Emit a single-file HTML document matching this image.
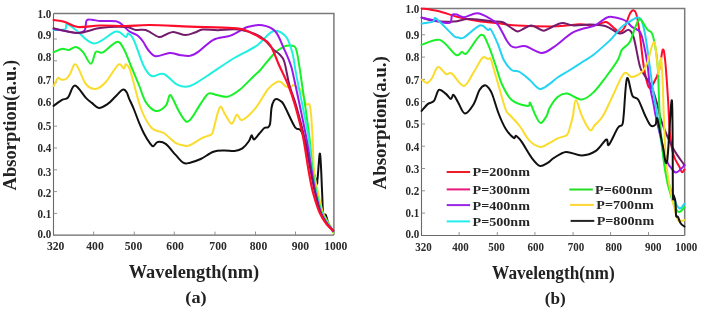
<!DOCTYPE html>
<html><head><meta charset="utf-8"><style>
html,body{margin:0;padding:0;background:#fff;width:704px;height:311px;overflow:hidden}
svg{display:block;will-change:transform}
</style></head><body>
<svg width="704" height="311" viewBox="0 0 704 311">
<rect width="704" height="311" fill="#fff"/>
<path d="M53.5,13.6 H333.9 V235.1" fill="none" stroke="#7a7a7a" stroke-width="1.5"/>
<path d="M53.5,13.6 V235.1 H333.9" fill="none" stroke="#6a6a6a" stroke-width="1.1"/>
<line x1="93.6" y1="235.1" x2="93.6" y2="231.6" stroke="#888" stroke-width="0.9"/>
<line x1="134.3" y1="235.1" x2="134.3" y2="231.6" stroke="#888" stroke-width="0.9"/>
<line x1="174.3" y1="235.1" x2="174.3" y2="231.6" stroke="#888" stroke-width="0.9"/>
<line x1="215.0" y1="235.1" x2="215.0" y2="231.6" stroke="#888" stroke-width="0.9"/>
<line x1="255.5" y1="235.1" x2="255.5" y2="231.6" stroke="#888" stroke-width="0.9"/>
<line x1="295.5" y1="235.1" x2="295.5" y2="231.6" stroke="#888" stroke-width="0.9"/>
<line x1="53.5" y1="213.4" x2="57.0" y2="213.4" stroke="#888" stroke-width="0.9"/>
<line x1="53.5" y1="191.6" x2="57.0" y2="191.6" stroke="#888" stroke-width="0.9"/>
<line x1="53.5" y1="169.8" x2="57.0" y2="169.8" stroke="#888" stroke-width="0.9"/>
<line x1="53.5" y1="148.0" x2="57.0" y2="148.0" stroke="#888" stroke-width="0.9"/>
<line x1="53.5" y1="126.2" x2="57.0" y2="126.2" stroke="#888" stroke-width="0.9"/>
<line x1="53.5" y1="104.4" x2="57.0" y2="104.4" stroke="#888" stroke-width="0.9"/>
<line x1="53.5" y1="82.6" x2="57.0" y2="82.6" stroke="#888" stroke-width="0.9"/>
<line x1="53.5" y1="60.8" x2="57.0" y2="60.8" stroke="#888" stroke-width="0.9"/>
<line x1="53.5" y1="39.0" x2="57.0" y2="39.0" stroke="#888" stroke-width="0.9"/>
<text x="55.7" y="250.3" font-family="Liberation Serif" font-weight="bold" font-size="11.5" fill="#2a2a2a" text-anchor="middle" textLength="17.5" lengthAdjust="spacingAndGlyphs">320</text>
<text x="95.0" y="250.3" font-family="Liberation Serif" font-weight="bold" font-size="11.5" fill="#2a2a2a" text-anchor="middle" textLength="17.5" lengthAdjust="spacingAndGlyphs">400</text>
<text x="133.5" y="250.3" font-family="Liberation Serif" font-weight="bold" font-size="11.5" fill="#2a2a2a" text-anchor="middle" textLength="17.5" lengthAdjust="spacingAndGlyphs">500</text>
<text x="175.1" y="250.3" font-family="Liberation Serif" font-weight="bold" font-size="11.5" fill="#2a2a2a" text-anchor="middle" textLength="17.5" lengthAdjust="spacingAndGlyphs">600</text>
<text x="218.1" y="250.3" font-family="Liberation Serif" font-weight="bold" font-size="11.5" fill="#2a2a2a" text-anchor="middle" textLength="17.5" lengthAdjust="spacingAndGlyphs">700</text>
<text x="258.5" y="250.3" font-family="Liberation Serif" font-weight="bold" font-size="11.5" fill="#2a2a2a" text-anchor="middle" textLength="17.5" lengthAdjust="spacingAndGlyphs">800</text>
<text x="300.4" y="250.3" font-family="Liberation Serif" font-weight="bold" font-size="11.5" fill="#2a2a2a" text-anchor="middle" textLength="17.5" lengthAdjust="spacingAndGlyphs">900</text>
<text x="335.8" y="250.3" font-family="Liberation Serif" font-weight="bold" font-size="11.5" fill="#2a2a2a" text-anchor="middle" textLength="23.3" lengthAdjust="spacingAndGlyphs">1000</text>
<text x="51.3" y="237.9" font-family="Liberation Serif" font-weight="bold" font-size="12.0" fill="#2a2a2a" text-anchor="end" textLength="13.8" lengthAdjust="spacingAndGlyphs">0.0</text>
<text x="51.3" y="217.7" font-family="Liberation Serif" font-weight="bold" font-size="12.0" fill="#2a2a2a" text-anchor="end" textLength="13.8" lengthAdjust="spacingAndGlyphs">0.1</text>
<text x="51.3" y="197.0" font-family="Liberation Serif" font-weight="bold" font-size="12.0" fill="#2a2a2a" text-anchor="end" textLength="13.8" lengthAdjust="spacingAndGlyphs">0.2</text>
<text x="51.3" y="175.5" font-family="Liberation Serif" font-weight="bold" font-size="12.0" fill="#2a2a2a" text-anchor="end" textLength="13.8" lengthAdjust="spacingAndGlyphs">0.3</text>
<text x="51.3" y="152.0" font-family="Liberation Serif" font-weight="bold" font-size="12.0" fill="#2a2a2a" text-anchor="end" textLength="13.8" lengthAdjust="spacingAndGlyphs">0.4</text>
<text x="51.3" y="129.5" font-family="Liberation Serif" font-weight="bold" font-size="12.0" fill="#2a2a2a" text-anchor="end" textLength="13.8" lengthAdjust="spacingAndGlyphs">0.5</text>
<text x="51.3" y="106.3" font-family="Liberation Serif" font-weight="bold" font-size="12.0" fill="#2a2a2a" text-anchor="end" textLength="13.8" lengthAdjust="spacingAndGlyphs">0.6</text>
<text x="51.3" y="84.0" font-family="Liberation Serif" font-weight="bold" font-size="12.0" fill="#2a2a2a" text-anchor="end" textLength="13.8" lengthAdjust="spacingAndGlyphs">0.7</text>
<text x="51.3" y="60.5" font-family="Liberation Serif" font-weight="bold" font-size="12.0" fill="#2a2a2a" text-anchor="end" textLength="13.8" lengthAdjust="spacingAndGlyphs">0.8</text>
<text x="51.3" y="39.0" font-family="Liberation Serif" font-weight="bold" font-size="12.0" fill="#2a2a2a" text-anchor="end" textLength="13.8" lengthAdjust="spacingAndGlyphs">0.9</text>
<text x="51.3" y="18.0" font-family="Liberation Serif" font-weight="bold" font-size="12.0" fill="#2a2a2a" text-anchor="end" textLength="13.8" lengthAdjust="spacingAndGlyphs">1.0</text>
<path d="M421.5,8.4 H684.7 V235.5" fill="none" stroke="#7a7a7a" stroke-width="1.5"/>
<path d="M421.5,8.4 V235.5 H684.7" fill="none" stroke="#6a6a6a" stroke-width="1.1"/>
<line x1="459.1" y1="235.5" x2="459.1" y2="232.0" stroke="#888" stroke-width="0.9"/>
<line x1="497.3" y1="235.5" x2="497.3" y2="232.0" stroke="#888" stroke-width="0.9"/>
<line x1="534.9" y1="235.5" x2="534.9" y2="232.0" stroke="#888" stroke-width="0.9"/>
<line x1="573.1" y1="235.5" x2="573.1" y2="232.0" stroke="#888" stroke-width="0.9"/>
<line x1="610.6" y1="235.5" x2="610.6" y2="232.0" stroke="#888" stroke-width="0.9"/>
<line x1="648.5" y1="235.5" x2="648.5" y2="232.0" stroke="#888" stroke-width="0.9"/>
<line x1="421.5" y1="213.1" x2="425.0" y2="213.1" stroke="#888" stroke-width="0.9"/>
<line x1="421.5" y1="190.8" x2="425.0" y2="190.8" stroke="#888" stroke-width="0.9"/>
<line x1="421.5" y1="168.5" x2="425.0" y2="168.5" stroke="#888" stroke-width="0.9"/>
<line x1="421.5" y1="146.2" x2="425.0" y2="146.2" stroke="#888" stroke-width="0.9"/>
<line x1="421.5" y1="124.0" x2="425.0" y2="124.0" stroke="#888" stroke-width="0.9"/>
<line x1="421.5" y1="101.7" x2="425.0" y2="101.7" stroke="#888" stroke-width="0.9"/>
<line x1="421.5" y1="79.4" x2="425.0" y2="79.4" stroke="#888" stroke-width="0.9"/>
<line x1="421.5" y1="57.1" x2="425.0" y2="57.1" stroke="#888" stroke-width="0.9"/>
<line x1="421.5" y1="34.8" x2="425.0" y2="34.8" stroke="#888" stroke-width="0.9"/>
<text x="423.4" y="251.0" font-family="Liberation Serif" font-weight="bold" font-size="11.5" fill="#2a2a2a" text-anchor="middle" textLength="16.5" lengthAdjust="spacingAndGlyphs">320</text>
<text x="460.6" y="251.0" font-family="Liberation Serif" font-weight="bold" font-size="11.5" fill="#2a2a2a" text-anchor="middle" textLength="16.5" lengthAdjust="spacingAndGlyphs">400</text>
<text x="496.4" y="251.0" font-family="Liberation Serif" font-weight="bold" font-size="11.5" fill="#2a2a2a" text-anchor="middle" textLength="16.5" lengthAdjust="spacingAndGlyphs">500</text>
<text x="535.8" y="251.0" font-family="Liberation Serif" font-weight="bold" font-size="11.5" fill="#2a2a2a" text-anchor="middle" textLength="16.5" lengthAdjust="spacingAndGlyphs">600</text>
<text x="575.9" y="251.0" font-family="Liberation Serif" font-weight="bold" font-size="11.5" fill="#2a2a2a" text-anchor="middle" textLength="16.5" lengthAdjust="spacingAndGlyphs">700</text>
<text x="613.7" y="251.0" font-family="Liberation Serif" font-weight="bold" font-size="11.5" fill="#2a2a2a" text-anchor="middle" textLength="16.5" lengthAdjust="spacingAndGlyphs">800</text>
<text x="653.3" y="251.0" font-family="Liberation Serif" font-weight="bold" font-size="11.5" fill="#2a2a2a" text-anchor="middle" textLength="16.5" lengthAdjust="spacingAndGlyphs">900</text>
<text x="686.2" y="251.0" font-family="Liberation Serif" font-weight="bold" font-size="11.5" fill="#2a2a2a" text-anchor="middle" textLength="22.0" lengthAdjust="spacingAndGlyphs">1000</text>
<text x="419.3" y="238.1" font-family="Liberation Serif" font-weight="bold" font-size="12.0" fill="#2a2a2a" text-anchor="end" textLength="13.8" lengthAdjust="spacingAndGlyphs">0.0</text>
<text x="419.3" y="217.4" font-family="Liberation Serif" font-weight="bold" font-size="12.0" fill="#2a2a2a" text-anchor="end" textLength="13.8" lengthAdjust="spacingAndGlyphs">0.1</text>
<text x="419.3" y="194.8" font-family="Liberation Serif" font-weight="bold" font-size="12.0" fill="#2a2a2a" text-anchor="end" textLength="13.8" lengthAdjust="spacingAndGlyphs">0.2</text>
<text x="419.3" y="172.5" font-family="Liberation Serif" font-weight="bold" font-size="12.0" fill="#2a2a2a" text-anchor="end" textLength="13.8" lengthAdjust="spacingAndGlyphs">0.3</text>
<text x="419.3" y="150.6" font-family="Liberation Serif" font-weight="bold" font-size="12.0" fill="#2a2a2a" text-anchor="end" textLength="13.8" lengthAdjust="spacingAndGlyphs">0.4</text>
<text x="419.3" y="128.2" font-family="Liberation Serif" font-weight="bold" font-size="12.0" fill="#2a2a2a" text-anchor="end" textLength="13.8" lengthAdjust="spacingAndGlyphs">0.5</text>
<text x="419.3" y="106.0" font-family="Liberation Serif" font-weight="bold" font-size="12.0" fill="#2a2a2a" text-anchor="end" textLength="13.8" lengthAdjust="spacingAndGlyphs">0.6</text>
<text x="419.3" y="84.2" font-family="Liberation Serif" font-weight="bold" font-size="12.0" fill="#2a2a2a" text-anchor="end" textLength="13.8" lengthAdjust="spacingAndGlyphs">0.7</text>
<text x="419.3" y="60.8" font-family="Liberation Serif" font-weight="bold" font-size="12.0" fill="#2a2a2a" text-anchor="end" textLength="13.8" lengthAdjust="spacingAndGlyphs">0.8</text>
<text x="419.3" y="38.8" font-family="Liberation Serif" font-weight="bold" font-size="12.0" fill="#2a2a2a" text-anchor="end" textLength="13.8" lengthAdjust="spacingAndGlyphs">0.9</text>
<text x="419.3" y="13.0" font-family="Liberation Serif" font-weight="bold" font-size="12.0" fill="#2a2a2a" text-anchor="end" textLength="13.8" lengthAdjust="spacingAndGlyphs">1.0</text>
<path d="M53.6,105.9 C55.0,104.9 59.6,101.3 62.0,99.9 C64.4,98.5 65.8,99.9 68.0,97.5 C70.2,95.1 71.9,85.4 74.9,85.5 C77.9,85.6 83.1,95.0 85.9,97.9 C88.7,100.8 89.7,101.2 91.9,102.9 C94.1,104.6 96.2,107.7 98.9,107.9 C101.6,108.1 105.1,105.7 107.8,103.9 C110.5,102.1 112.5,99.4 115.0,97.0 C117.5,94.6 120.8,90.5 122.7,89.7 C124.6,88.9 125.5,90.6 126.5,92.0 C127.5,93.4 127.8,95.5 129.0,98.3 C130.2,101.1 132.2,105.0 133.8,109.0 C135.4,113.0 137.2,118.0 138.8,122.0 C140.5,126.0 141.9,129.5 143.7,133.0 C145.5,136.5 148.1,140.7 149.7,142.9 C151.3,145.1 152.0,146.5 153.3,146.3 C154.6,146.1 155.6,142.3 157.7,141.9 C159.8,141.5 162.7,141.7 165.7,143.9 C168.7,146.1 172.6,151.7 175.6,154.9 C178.6,158.1 181.2,161.6 183.6,162.9 C186.0,164.2 187.2,163.3 190.0,162.7 C192.8,162.0 196.8,160.8 200.7,159.0 C204.6,157.2 209.5,153.2 213.4,151.8 C217.3,150.4 220.4,150.6 224.0,150.5 C227.6,150.4 231.6,151.3 234.7,151.0 C237.8,150.7 240.0,150.1 242.4,148.4 C244.8,146.7 247.5,143.2 249.0,141.0 C250.5,138.8 250.8,135.7 251.6,135.4 C252.4,135.1 252.8,139.6 254.0,139.4 C255.2,139.2 257.3,135.9 259.0,134.0 C260.7,132.1 262.8,129.1 264.3,128.0 C265.8,126.9 267.2,128.0 268.2,127.2 C269.2,126.5 269.6,126.7 270.1,123.5 C270.7,120.3 270.9,111.8 271.5,108.0 C272.1,104.2 273.1,102.0 274.0,100.5 C274.9,99.0 275.9,98.9 277.0,99.0 C278.1,99.1 279.3,100.0 280.5,101.0 C281.7,102.0 281.8,101.0 284.0,105.0 C286.2,109.0 291.5,120.9 293.6,124.8 C295.7,128.7 294.9,127.0 296.5,128.6 C298.1,130.2 299.7,126.0 302.9,134.5 C306.1,142.9 313.3,171.9 315.7,179.3 C318.1,186.7 316.8,183.3 317.5,179.0 C318.2,174.7 319.2,151.5 320.0,153.7 C320.8,155.9 321.6,182.2 322.1,192.0 C322.6,201.8 322.5,209.0 323.1,212.8 C323.7,216.6 324.9,213.1 325.8,215.0 C326.7,216.9 327.5,221.4 328.7,224.0 C329.9,226.6 332.4,229.7 333.2,230.8" stroke="#111111" stroke-width="2.0" fill="none" stroke-linejoin="round" stroke-linecap="round"/>
<path d="M53.6,86.0 C54.3,84.7 56.8,79.1 58.0,78.0 C59.2,76.9 59.7,79.4 61.0,79.6 C62.3,79.8 64.5,79.9 66.0,79.0 C67.5,78.1 68.3,76.4 70.0,74.0 C71.7,71.6 73.2,62.8 75.9,64.5 C78.6,66.2 82.6,79.9 85.9,84.0 C89.2,88.1 92.6,89.2 95.9,88.9 C99.2,88.6 102.1,86.0 105.8,82.0 C109.5,78.0 115.3,67.0 118.3,64.7 C121.3,62.5 122.6,68.6 123.9,68.5 C125.2,68.4 124.9,64.0 125.9,64.2 C126.9,64.4 128.7,66.7 129.9,69.5 C131.1,72.3 131.3,74.2 133.2,81.0 C135.1,87.8 138.4,102.2 141.5,110.0 C144.6,117.8 148.0,124.2 151.7,128.0 C155.4,131.8 159.7,130.5 163.7,133.0 C167.7,135.5 172.3,140.8 175.6,142.9 C178.9,145.0 181.2,145.1 183.6,145.5 C186.0,145.9 186.8,146.5 190.0,145.2 C193.2,143.9 199.2,139.5 202.8,137.7 C206.4,135.9 209.5,135.8 211.3,134.5 C213.1,133.2 212.0,134.2 213.4,129.7 C214.8,125.2 217.8,109.8 219.8,107.3 C221.8,104.8 223.2,112.0 225.2,114.7 C227.2,117.4 229.6,123.7 231.6,123.7 C233.6,123.7 235.1,115.3 236.9,114.7 C238.7,114.1 239.1,121.1 242.2,120.1 C245.3,119.0 251.0,113.6 255.3,108.4 C259.6,103.2 264.4,93.6 268.0,89.2 C271.6,84.8 274.7,82.9 277.0,81.8 C279.3,80.7 280.3,81.8 281.7,82.6 C283.1,83.4 284.1,85.7 285.6,86.4 C287.1,87.2 289.4,87.3 290.7,87.1 C292.0,86.9 292.2,85.1 293.3,85.1 C294.4,85.1 295.7,86.1 297.0,87.0 C298.3,87.9 299.8,88.5 301.0,90.3 C302.2,92.1 303.1,95.7 304.0,98.0 C304.9,100.3 305.3,103.3 306.2,104.4 C307.1,105.5 308.6,102.8 309.4,104.4 C310.2,106.0 310.5,108.7 311.0,114.0 C311.5,119.3 312.0,126.7 312.5,136.0 C313.0,145.3 313.1,160.6 314.0,170.0 C314.9,179.4 316.5,185.4 318.0,192.5 C319.5,199.6 321.2,207.5 323.0,212.8 C324.8,218.1 327.3,220.7 329.0,224.1 C330.7,227.5 332.5,231.5 333.2,233.0" stroke="#fadc2c" stroke-width="2.0" fill="none" stroke-linejoin="round" stroke-linecap="round"/>
<path d="M53.6,52.3 C55.0,51.7 59.5,49.3 62.0,48.9 C64.5,48.5 66.6,50.2 68.9,49.9 C71.2,49.6 73.6,46.6 75.9,46.9 C78.2,47.2 80.4,49.1 82.9,51.9 C85.4,54.7 88.7,63.8 90.9,63.8 C93.1,63.8 93.9,53.8 95.9,51.9 C97.9,50.0 99.4,54.0 102.9,52.3 C106.4,50.6 113.3,42.5 116.8,41.9 C120.3,41.3 121.4,44.9 123.8,48.9 C126.2,52.9 128.4,59.8 131.0,66.0 C133.6,72.2 136.9,80.0 139.3,86.0 C141.8,92.0 143.0,97.8 145.7,101.9 C148.4,106.1 152.3,110.3 155.7,110.9 C159.0,111.5 163.5,108.2 165.8,105.6 C168.1,103.0 168.4,96.4 169.6,95.3 C170.8,94.2 171.3,96.3 172.9,99.1 C174.5,101.9 177.1,108.2 179.3,112.0 C181.6,115.8 184.2,120.8 186.4,121.7 C188.6,122.6 190.2,119.7 192.2,117.2 C194.2,114.7 196.7,109.9 198.6,106.9 C200.5,104.0 201.8,101.8 203.5,99.5 C205.2,97.2 206.5,94.1 208.9,93.4 C211.3,92.7 214.7,94.8 217.9,95.3 C221.1,95.8 224.5,97.6 228.2,96.6 C231.9,95.6 235.7,92.9 240.0,89.5 C244.3,86.1 250.5,79.2 253.9,76.0 C257.3,72.8 257.1,73.5 260.3,70.0 C263.5,66.5 269.2,58.6 273.1,54.7 C277.0,50.8 280.6,48.2 283.8,46.7 C287.0,45.2 290.2,45.2 292.3,45.8 C294.4,46.4 295.1,45.5 296.5,50.5 C297.9,55.5 298.7,61.8 300.8,76.0 C302.9,90.2 307.4,120.3 309.3,136.0 C311.2,151.7 311.3,160.6 312.5,170.0 C313.7,179.4 314.9,185.4 316.5,192.5 C318.1,199.6 320.0,207.5 322.0,212.8 C324.0,218.1 326.6,220.9 328.5,224.1 C330.4,227.3 332.4,230.7 333.2,232.0" stroke="#18f028" stroke-width="2.0" fill="none" stroke-linejoin="round" stroke-linecap="round"/>
<path d="M53.6,30.0 C55.5,29.9 62.8,30.5 65.0,29.5 C67.2,28.5 65.2,23.9 67.0,24.0 C68.8,24.1 71.4,26.8 75.9,30.0 C80.4,33.2 87.2,43.2 93.9,43.5 C100.6,43.8 110.5,32.6 115.8,31.5 C121.1,30.4 123.7,36.7 125.8,37.0 C127.9,37.3 126.9,33.0 128.2,33.5 C129.5,34.0 131.2,34.6 133.8,40.0 C136.4,45.4 140.7,60.0 143.7,66.0 C146.7,72.0 148.4,74.7 151.7,76.0 C155.0,77.3 159.4,72.5 163.7,74.0 C168.0,75.5 173.2,82.9 177.6,84.9 C182.0,86.9 185.1,87.5 190.0,86.0 C194.9,84.5 199.9,80.5 207.0,76.0 C214.1,71.5 224.4,64.0 232.6,59.0 C240.8,54.0 249.2,50.8 256.0,46.2 C262.8,41.6 268.1,32.9 273.1,31.3 C278.1,29.7 282.7,33.1 285.9,36.6 C289.1,40.1 290.5,46.0 292.3,52.6 C294.1,59.2 293.8,62.1 296.5,76.0 C299.2,89.9 305.7,120.3 308.3,136.0 C310.9,151.7 310.7,160.6 312.0,170.0 C313.3,179.4 314.4,185.4 316.0,192.5 C317.6,199.6 319.5,207.5 321.5,212.8 C323.5,218.1 326.1,221.0 328.0,224.1 C329.9,227.2 332.3,230.3 333.2,231.5" stroke="#1ff0e0" stroke-width="2.0" fill="none" stroke-linejoin="round" stroke-linecap="round"/>
<path d="M53.6,29.0 C55.5,29.3 61.0,30.3 65.0,31.0 C69.0,31.7 74.6,33.2 77.9,33.0 C81.2,32.8 83.3,32.1 84.8,30.0 C86.2,27.9 85.4,22.2 86.6,20.5 C87.8,18.8 89.8,19.7 92.0,19.8 C94.2,19.9 97.3,20.8 100.0,21.0 C102.7,21.2 105.3,21.0 108.0,21.0 C110.7,21.0 114.0,20.9 116.0,21.2 C118.0,21.5 118.8,22.1 120.1,23.0 C121.4,23.9 122.8,25.2 124.1,26.5 C125.4,27.8 126.8,29.4 128.2,30.5 C129.6,31.6 131.1,32.3 132.7,33.2 C134.3,34.1 136.2,34.3 137.9,35.7 C139.6,37.1 141.3,39.1 143.0,41.5 C144.7,43.9 146.1,47.5 148.2,50.0 C150.3,52.5 152.1,55.8 155.7,56.3 C159.3,56.8 165.7,53.1 169.7,52.9 C173.7,52.7 176.2,54.4 179.6,54.9 C183.0,55.4 186.8,56.3 190.0,55.8 C193.2,55.2 194.6,54.3 198.5,51.6 C202.4,48.9 208.1,42.5 213.4,39.8 C218.7,37.1 224.8,37.7 230.5,35.6 C236.2,33.5 242.2,28.7 247.5,27.0 C252.8,25.3 257.8,24.6 262.4,25.3 C267.0,26.0 271.6,27.5 275.2,31.3 C278.8,35.1 281.3,43.1 283.8,48.4 C286.3,53.7 288.5,58.7 290.1,63.3 C291.7,67.9 290.9,63.9 293.5,76.0 C296.1,88.1 303.0,120.3 306.0,136.0 C309.0,151.7 309.9,160.6 311.5,170.0 C313.1,179.4 313.9,185.4 315.5,192.5 C317.1,199.6 319.0,207.5 321.0,212.8 C323.0,218.1 325.5,221.1 327.5,224.1 C329.5,227.1 332.2,229.8 333.2,231.0" stroke="#9c18ea" stroke-width="2.0" fill="none" stroke-linejoin="round" stroke-linecap="round"/>
<path d="M53.6,28.3 C57.7,29.1 70.2,32.9 77.9,32.9 C85.6,32.9 91.9,29.0 99.9,28.0 C107.9,27.0 119.8,26.7 125.8,27.0 C131.8,27.3 132.5,29.5 135.8,30.0 C139.1,30.5 141.9,28.9 145.7,30.0 C149.5,31.1 155.1,36.1 158.5,36.9 C161.9,37.6 163.5,35.3 166.0,34.5 C168.5,33.7 170.2,31.9 173.5,32.0 C176.8,32.1 181.9,35.0 185.5,35.1 C189.1,35.2 192.1,33.4 195.0,32.5 C197.9,31.6 199.0,30.0 202.8,29.6 C206.6,29.2 211.7,30.2 217.7,30.2 C223.7,30.2 231.9,28.5 239.0,29.6 C246.1,30.7 254.7,33.4 260.3,36.6 C265.9,39.8 269.6,46.0 272.7,48.9 C275.8,51.8 277.2,51.9 279.1,54.0 C281.0,56.1 282.6,56.5 284.3,61.7 C286.0,66.9 287.4,77.8 289.4,85.0 C291.3,92.2 293.6,96.5 296.0,105.0 C298.4,113.5 301.6,125.2 304.0,136.0 C306.4,146.8 308.7,160.6 310.5,170.0 C312.3,179.4 313.3,185.4 315.0,192.5 C316.7,199.6 318.5,207.5 320.5,212.8 C322.5,218.1 324.9,221.1 327.0,224.1 C329.1,227.1 332.2,229.7 333.2,230.8" stroke="#741c6c" stroke-width="2.0" fill="none" stroke-linejoin="round" stroke-linecap="round"/>
<path d="M53.6,20.0 C55.5,20.3 61.0,20.8 65.0,22.0 C69.0,23.2 72.1,26.4 77.9,27.0 C83.7,27.6 92.0,25.7 100.0,25.5 C108.0,25.3 117.5,26.1 125.8,26.0 C134.1,25.9 139.0,24.9 149.7,25.0 C160.4,25.1 176.2,26.1 190.0,26.6 C203.8,27.1 223.4,27.5 232.6,28.1 C241.8,28.7 240.8,28.6 245.4,30.2 C250.0,31.8 256.2,35.2 260.3,37.7 C264.4,40.2 267.0,40.5 270.1,45.0 C273.2,49.5 276.0,58.3 279.0,65.0 C282.0,71.7 285.5,78.3 288.2,85.0 C290.9,91.7 292.6,96.5 295.0,105.0 C297.4,113.5 300.6,125.2 302.9,136.0 C305.1,146.8 306.8,160.6 308.5,170.0 C310.2,179.4 311.1,185.4 313.0,192.5 C314.9,199.6 317.4,207.5 319.7,212.8 C321.9,218.1 324.2,221.1 326.5,224.1 C328.8,227.1 332.1,229.7 333.2,230.8" stroke="#ff0d2a" stroke-width="2.2" fill="none" stroke-linejoin="round" stroke-linecap="round"/>
<path d="M421.6,8.4 C424.3,8.8 431.9,9.6 438.0,11.0 C444.1,12.4 451.3,15.3 457.9,17.0 C464.5,18.7 471.1,19.9 477.8,21.0 C484.5,22.1 491.1,22.6 497.8,23.3 C504.5,24.1 507.7,25.0 517.7,25.5 C527.7,26.0 547.2,26.5 557.6,26.3 C568.0,26.1 573.9,24.4 579.9,24.3 C585.9,24.2 589.6,25.9 593.9,25.5 C598.2,25.1 602.6,21.6 605.9,22.0 C609.2,22.4 611.5,26.2 613.8,27.9 C616.1,29.5 618.0,32.1 619.8,31.9 C621.6,31.7 623.1,29.9 624.8,26.9 C626.5,23.9 628.3,16.8 629.8,14.0 C631.3,11.2 632.6,10.1 633.8,10.4 C635.0,10.7 635.8,12.1 636.8,16.0 C637.8,19.9 638.6,25.6 639.8,33.9 C640.9,42.2 642.2,57.1 643.7,66.0 C645.2,74.8 647.1,84.2 648.7,87.0 C650.4,89.8 651.8,86.0 653.6,83.1 C655.4,80.2 657.8,75.1 659.3,69.6 C660.8,64.1 661.7,51.5 662.7,49.9 C663.7,48.3 664.2,51.9 665.1,60.0 C666.0,68.1 667.2,86.2 668.0,98.6 C668.8,111.0 669.1,124.9 670.0,134.3 C670.9,143.7 672.0,149.6 673.5,155.0 C675.0,160.4 677.9,163.7 679.3,166.6 C680.7,169.5 681.0,171.7 681.9,172.2 C682.8,172.7 684.0,169.9 684.4,169.5" stroke="#ff0d2a" stroke-width="2.0" fill="none" stroke-linejoin="round" stroke-linecap="round"/>
<path d="M421.6,17.6 C423.7,18.2 428.6,20.3 434.0,21.0 C439.4,21.7 448.2,21.9 453.9,21.6 C459.5,21.3 462.6,19.2 467.9,19.0 C473.2,18.8 481.6,20.1 485.8,20.5 C490.0,20.9 490.1,21.2 493.0,21.5 C495.9,21.8 500.1,21.3 502.9,22.2 C505.7,23.1 507.5,25.5 510.0,27.0 C512.5,28.5 515.4,31.1 517.7,31.4 C520.0,31.6 521.8,29.5 524.0,28.5 C526.2,27.5 529.0,25.7 531.2,25.6 C533.5,25.5 535.4,27.1 537.5,28.0 C539.6,28.9 541.6,30.9 544.0,30.7 C546.4,30.5 549.0,28.3 552.0,27.0 C555.0,25.7 558.4,23.2 562.0,23.0 C565.6,22.8 569.2,25.2 573.9,25.5 C578.5,25.8 584.6,24.4 589.9,24.5 C595.2,24.6 600.9,24.8 605.9,26.3 C610.9,27.8 616.0,32.9 619.8,33.5 C623.6,34.1 626.5,29.2 628.8,29.9 C631.1,30.6 632.0,31.9 633.8,37.9 C635.6,43.9 638.1,60.0 639.8,66.0 C641.4,72.0 641.7,70.5 643.7,74.0 C645.7,77.5 649.4,81.6 651.7,86.9 C654.0,92.2 656.1,100.2 657.7,105.9 C659.3,111.6 658.8,113.8 661.3,120.8 C663.8,127.8 668.9,140.4 672.8,147.8 C676.6,155.2 682.5,162.2 684.4,165.1" stroke="#741c6c" stroke-width="2.0" fill="none" stroke-linejoin="round" stroke-linecap="round"/>
<path d="M421.6,17.6 C425.7,18.5 441.0,22.2 445.9,22.9 C450.8,23.6 449.8,23.1 450.8,21.8 C451.8,20.5 451.1,16.2 452.1,15.0 C453.1,13.8 454.6,14.2 456.6,14.6 C458.6,15.0 460.9,17.4 464.3,17.2 C467.7,17.0 472.9,13.0 477.2,13.2 C481.5,13.4 486.6,16.6 490.0,18.5 C493.4,20.4 495.6,21.8 497.7,24.3 C499.8,26.8 501.3,30.5 502.9,33.3 C504.4,36.1 505.6,38.9 507.0,41.0 C508.4,43.1 509.6,44.9 511.0,46.0 C512.5,47.1 513.2,47.5 515.7,47.5 C518.2,47.5 521.4,45.4 525.7,46.3 C530.0,47.2 537.0,52.8 541.7,52.9 C546.4,53.0 548.6,50.4 554.0,46.9 C559.4,43.4 567.2,35.4 573.9,31.9 C580.5,28.4 589.8,27.4 593.9,25.9 C598.0,24.4 596.3,24.4 598.6,23.0 C600.9,21.6 605.0,18.1 607.6,17.2 C610.2,16.2 611.6,17.0 614.0,17.3 C616.4,17.6 619.6,18.4 621.7,19.1 C623.9,19.8 625.2,20.4 626.9,21.7 C628.6,23.0 629.8,25.2 632.0,26.9 C634.2,28.6 638.0,29.2 640.0,32.0 C642.0,34.8 642.4,38.2 643.7,43.9 C645.0,49.6 646.7,59.1 647.7,66.0 C648.7,72.8 648.7,78.6 649.7,85.0 C650.7,91.4 652.6,99.3 653.6,104.3 C654.6,109.3 654.2,109.0 655.5,115.0 C656.8,121.0 659.4,132.3 661.3,140.0 C663.2,147.7 665.6,156.8 667.1,161.3 C668.6,165.8 669.0,165.2 670.5,167.0 C672.0,168.8 673.8,172.7 676.1,172.4 C678.4,172.2 683.0,166.7 684.4,165.5" stroke="#9c18ea" stroke-width="2.0" fill="none" stroke-linejoin="round" stroke-linecap="round"/>
<path d="M421.6,23.5 C423.5,23.2 430.8,22.5 433.0,21.6 C435.2,20.7 433.8,17.9 435.0,18.0 C436.2,18.1 436.9,19.0 440.0,22.0 C443.1,25.0 450.9,33.4 453.9,35.9 C456.9,38.4 456.3,37.0 458.0,37.3 C459.7,37.6 460.3,39.5 463.9,37.5 C467.5,35.5 475.8,26.8 479.8,25.5 C483.8,24.2 486.0,29.2 487.8,29.9 C489.6,30.6 489.1,27.2 490.8,29.5 C492.5,31.8 495.6,38.8 497.8,43.9 C500.0,49.0 501.5,55.6 503.8,60.0 C506.1,64.3 509.0,68.0 511.7,70.0 C514.4,72.0 516.7,70.3 519.7,72.0 C522.7,73.7 526.4,77.1 529.7,79.9 C533.0,82.7 536.4,88.2 539.7,88.9 C543.0,89.6 546.6,85.8 549.6,83.9 C552.6,82.0 554.2,79.8 557.6,77.5 C561.0,75.2 565.6,72.8 570.0,70.0 C574.4,67.2 579.9,63.6 583.9,61.0 C587.9,58.4 589.6,57.9 593.9,54.5 C598.2,51.1 606.4,43.6 609.8,40.5 C613.1,37.4 612.0,38.2 614.0,35.9 C616.0,33.6 619.1,29.3 621.7,26.9 C624.3,24.5 626.9,23.3 629.5,21.7 C632.1,20.1 635.5,17.6 637.5,17.5 C639.5,17.4 640.4,17.6 641.8,21.0 C643.2,24.4 644.4,30.4 645.7,37.9 C647.0,45.4 648.5,57.3 649.7,66.0 C650.9,74.7 651.6,81.0 653.0,90.0 C654.4,99.0 655.9,106.7 658.0,120.0 C660.1,133.3 663.3,157.5 665.7,170.0 C668.1,182.5 670.1,188.4 672.4,194.8 C674.6,201.2 677.2,206.8 679.2,208.3 C681.2,209.8 683.5,204.6 684.4,203.8" stroke="#22d4f2" stroke-width="2.0" fill="none" stroke-linejoin="round" stroke-linecap="round"/>
<path d="M421.6,44.9 C424.7,44.1 434.2,38.2 439.9,39.9 C445.6,41.6 452.2,52.9 455.9,54.9 C459.6,56.9 460.1,52.2 461.9,51.9 C463.7,51.6 463.8,55.7 466.9,52.9 C470.0,50.1 477.3,36.4 480.8,34.9 C484.3,33.4 485.3,38.7 487.8,43.9 C490.3,49.1 493.5,59.3 495.8,66.0 C498.1,72.7 499.2,78.2 501.8,83.9 C504.4,89.6 507.4,96.2 511.7,99.9 C516.0,103.6 524.6,105.4 527.7,105.9 C530.8,106.4 528.8,101.2 530.1,102.9 C531.4,104.6 533.9,112.5 535.7,115.8 C537.5,119.1 538.9,123.0 540.7,123.0 C542.5,123.0 545.1,118.5 546.6,116.0 C548.1,113.5 547.8,111.1 549.6,107.9 C551.4,104.7 554.7,99.3 557.6,96.9 C560.5,94.5 563.0,93.1 567.0,93.5 C571.0,93.9 577.4,99.8 581.9,99.5 C586.4,99.2 589.9,95.7 593.9,91.9 C597.9,88.2 601.9,82.3 605.9,77.0 C609.9,71.7 615.1,64.5 617.8,60.0 C620.4,55.5 619.8,52.9 621.8,49.9 C623.8,46.9 627.5,45.9 629.8,41.9 C632.1,37.9 634.1,29.7 635.8,25.9 C637.5,22.1 638.5,19.3 639.8,19.0 C641.1,18.7 642.4,22.1 643.7,23.9 C645.0,25.7 646.4,28.4 647.7,29.9 C649.0,31.4 650.5,30.6 651.7,32.9 C652.9,35.2 653.7,38.4 654.7,43.9 C655.7,49.4 656.8,53.3 657.7,66.0 C658.6,78.7 658.8,102.7 660.0,120.0 C661.2,137.3 663.1,157.2 665.0,170.0 C666.9,182.8 669.1,190.1 671.3,197.0 C673.5,203.9 675.9,210.0 678.1,211.7 C680.3,213.4 683.4,207.9 684.4,207.2" stroke="#18f028" stroke-width="2.0" fill="none" stroke-linejoin="round" stroke-linecap="round"/>
<path d="M421.6,79.5 C422.5,80.1 425.3,83.2 427.0,82.9 C428.7,82.7 430.2,80.7 432.0,78.0 C433.8,75.3 435.7,67.7 438.0,67.0 C440.3,66.3 443.6,72.9 445.9,74.0 C448.2,75.1 448.9,71.6 451.9,73.6 C454.9,75.6 460.2,86.2 463.9,85.9 C467.5,85.6 471.0,76.3 473.8,72.0 C476.6,67.7 479.1,62.5 480.8,60.0 C482.5,57.5 482.6,57.1 483.8,56.9 C485.0,56.7 487.0,58.8 488.0,59.0 C489.0,59.2 489.4,57.5 490.0,58.0 C490.6,58.5 490.2,56.7 491.8,62.0 C493.4,67.3 497.5,81.9 499.8,89.9 C502.1,97.9 504.0,105.6 505.8,109.9 C507.6,114.2 508.4,113.3 510.7,116.0 C513.0,118.7 516.5,121.8 519.7,126.0 C522.9,130.2 526.2,137.4 529.7,140.9 C533.2,144.4 537.4,146.6 540.7,146.9 C544.0,147.2 546.8,144.3 549.6,142.9 C552.4,141.5 554.7,139.6 557.6,138.3 C560.5,137.0 564.9,136.8 567.0,134.9 C569.1,133.0 569.0,130.2 570.0,127.0 C571.0,123.8 571.9,120.5 572.9,116.0 C573.9,111.5 574.4,99.9 575.9,99.9 C577.4,99.9 579.6,111.0 581.9,116.0 C584.2,121.0 587.7,128.5 589.9,130.0 C592.1,131.5 592.7,127.3 594.9,125.0 C597.1,122.7 600.1,120.5 602.9,116.0 C605.7,111.5 608.3,105.0 611.8,97.9 C615.3,90.8 620.5,77.1 623.8,73.6 C627.1,70.1 628.8,77.3 631.8,77.0 C634.8,76.7 639.2,74.3 641.8,72.0 C644.3,69.7 645.1,68.3 647.1,63.3 C649.1,58.3 652.1,42.5 653.8,42.0 C655.4,41.5 656.2,54.7 657.0,60.0 C657.8,65.3 658.0,74.3 658.6,74.0 C659.2,73.7 660.3,58.7 660.9,58.0 C661.5,57.3 661.6,64.7 662.0,70.0 C662.4,75.3 662.7,81.7 663.0,90.0 C663.3,98.3 663.3,106.7 664.0,120.0 C664.7,133.3 664.9,154.0 667.0,170.0 C669.1,186.0 674.2,207.6 676.5,216.0 C678.8,224.4 679.3,220.0 680.6,220.7 C681.9,221.4 683.8,220.1 684.4,220.0" stroke="#fadc2c" stroke-width="2.0" fill="none" stroke-linejoin="round" stroke-linecap="round"/>
<path d="M421.6,110.9 C422.7,109.7 425.9,105.6 428.0,103.9 C430.1,102.2 432.2,103.2 434.0,100.9 C435.8,98.6 436.9,91.1 438.9,89.9 C440.9,88.7 443.9,92.4 445.9,93.9 C447.9,95.4 449.6,98.7 450.9,98.9 C452.2,99.1 452.3,94.4 453.5,94.9 C454.7,95.4 456.0,98.8 457.9,101.9 C459.8,105.0 462.2,113.2 464.9,113.5 C467.5,113.8 471.4,107.8 473.8,103.9 C476.2,100.0 477.6,93.1 479.5,90.0 C481.4,86.9 483.3,85.5 484.9,85.2 C486.5,84.9 487.7,86.7 489.0,88.3 C490.3,89.9 490.9,90.7 492.5,95.0 C494.1,99.3 496.6,108.3 498.8,114.0 C501.0,119.7 503.3,125.0 505.8,129.0 C508.3,133.0 512.0,136.8 513.7,137.9 C515.4,139.1 514.8,135.2 516.1,135.9 C517.4,136.6 519.1,138.2 521.7,141.9 C524.3,145.6 528.7,153.9 531.7,157.9 C534.7,161.9 537.1,165.1 539.7,165.9 C542.4,166.7 545.2,164.2 547.6,162.9 C550.0,161.6 550.9,159.7 554.0,157.9 C557.1,156.1 561.4,152.3 566.0,151.9 C570.6,151.5 576.9,155.7 581.9,155.5 C586.9,155.3 591.8,153.6 595.9,150.9 C600.0,148.2 604.1,140.5 606.3,139.5 C608.4,138.5 606.9,146.8 608.8,144.9 C610.7,143.0 615.5,131.4 617.8,128.0 C620.0,124.6 621.3,126.8 622.3,124.6 C623.3,122.4 622.9,122.7 623.7,115.0 C624.5,107.3 625.5,81.5 627.0,78.3 C628.5,75.1 630.5,92.2 632.4,95.7 C634.2,99.2 636.0,96.3 638.1,99.5 C640.2,102.7 642.8,110.7 644.9,115.0 C647.0,119.3 648.9,124.0 650.7,125.6 C652.5,127.2 654.4,125.7 655.5,124.6 C656.6,123.5 656.2,115.4 657.4,118.9 C658.6,122.5 661.1,138.8 662.7,145.9 C664.3,153.0 665.6,168.9 667.1,161.3 C668.6,153.7 670.9,95.4 671.9,100.5 C672.9,105.6 672.6,176.2 672.9,192.0 C673.2,207.8 673.1,193.4 673.5,195.0 C673.9,196.6 675.0,198.0 675.4,201.4 C675.8,204.8 675.7,213.0 676.1,215.6 C676.5,218.2 677.2,215.6 678.0,216.9 C678.8,218.2 679.5,221.7 680.6,223.3 C681.7,224.9 683.8,226.0 684.4,226.5" stroke="#111111" stroke-width="2.0" fill="none" stroke-linejoin="round" stroke-linecap="round"/>
<line x1="446.7" y1="172.0" x2="470.1" y2="172.0" stroke="#ee1c25" stroke-width="2"/>
<text x="472.5" y="176.4" font-family="Liberation Serif" font-weight="bold" font-size="13.4" fill="#262626" textLength="57.5" lengthAdjust="spacingAndGlyphs">P=200nm</text>
<line x1="446.7" y1="189.4" x2="470.1" y2="189.4" stroke="#e8197d" stroke-width="2"/>
<text x="472.5" y="193.8" font-family="Liberation Serif" font-weight="bold" font-size="13.4" fill="#262626" textLength="57.5" lengthAdjust="spacingAndGlyphs">P=300nm</text>
<line x1="446.7" y1="205.1" x2="470.1" y2="205.1" stroke="#9a27e6" stroke-width="2"/>
<text x="472.5" y="209.5" font-family="Liberation Serif" font-weight="bold" font-size="13.4" fill="#262626" textLength="57.5" lengthAdjust="spacingAndGlyphs">P=400nm</text>
<line x1="446.7" y1="221.4" x2="470.1" y2="221.4" stroke="#22eef0" stroke-width="2"/>
<text x="472.5" y="225.8" font-family="Liberation Serif" font-weight="bold" font-size="13.4" fill="#262626" textLength="57.5" lengthAdjust="spacingAndGlyphs">P=500nm</text>
<line x1="569.3" y1="189.5" x2="592.8" y2="189.5" stroke="#22dd22" stroke-width="2"/>
<text x="595.1" y="193.7" font-family="Liberation Serif" font-weight="bold" font-size="13.4" fill="#262626" textLength="57.5" lengthAdjust="spacingAndGlyphs">P=600nm</text>
<line x1="570.0" y1="204.9" x2="593.8" y2="204.9" stroke="#ffd633" stroke-width="2"/>
<text x="596.3" y="209.2" font-family="Liberation Serif" font-weight="bold" font-size="13.4" fill="#262626" textLength="57.5" lengthAdjust="spacingAndGlyphs">P=700nm</text>
<line x1="570.6" y1="220.9" x2="594.3" y2="220.9" stroke="#222222" stroke-width="2"/>
<text x="596.7" y="224.8" font-family="Liberation Serif" font-weight="bold" font-size="13.4" fill="#262626" textLength="57.5" lengthAdjust="spacingAndGlyphs">P=800nm</text>
<text transform="translate(15.6,190.4) rotate(-90)" x="0" y="0" font-family="Liberation Serif" font-weight="bold" font-size="18.5" fill="#222" textLength="130.5" lengthAdjust="spacingAndGlyphs">Absorption(a.u.)</text>
<text transform="translate(386,189.4) rotate(-90)" x="0" y="0" font-family="Liberation Serif" font-weight="bold" font-size="18.5" fill="#222" textLength="133.2" lengthAdjust="spacingAndGlyphs">Absorption(a.u.)</text>
<text x="128.8" y="277.6" font-family="Liberation Serif" font-weight="bold" font-size="18.5" fill="#222" textLength="130.4" lengthAdjust="spacingAndGlyphs">Wavelength(nm)</text>
<text x="492.1" y="279.0" font-family="Liberation Serif" font-weight="bold" font-size="18" fill="#222" textLength="122.6" lengthAdjust="spacingAndGlyphs">Wavelength(nm)</text>
<text x="185.3" y="302.6" font-family="Liberation Serif" font-weight="bold" font-size="17" fill="#222" textLength="21.3" lengthAdjust="spacingAndGlyphs">(a)</text>
<text x="544.7" y="304" font-family="Liberation Serif" font-weight="bold" font-size="17" fill="#222" textLength="21" lengthAdjust="spacingAndGlyphs">(b)</text>
</svg>
</body></html>
